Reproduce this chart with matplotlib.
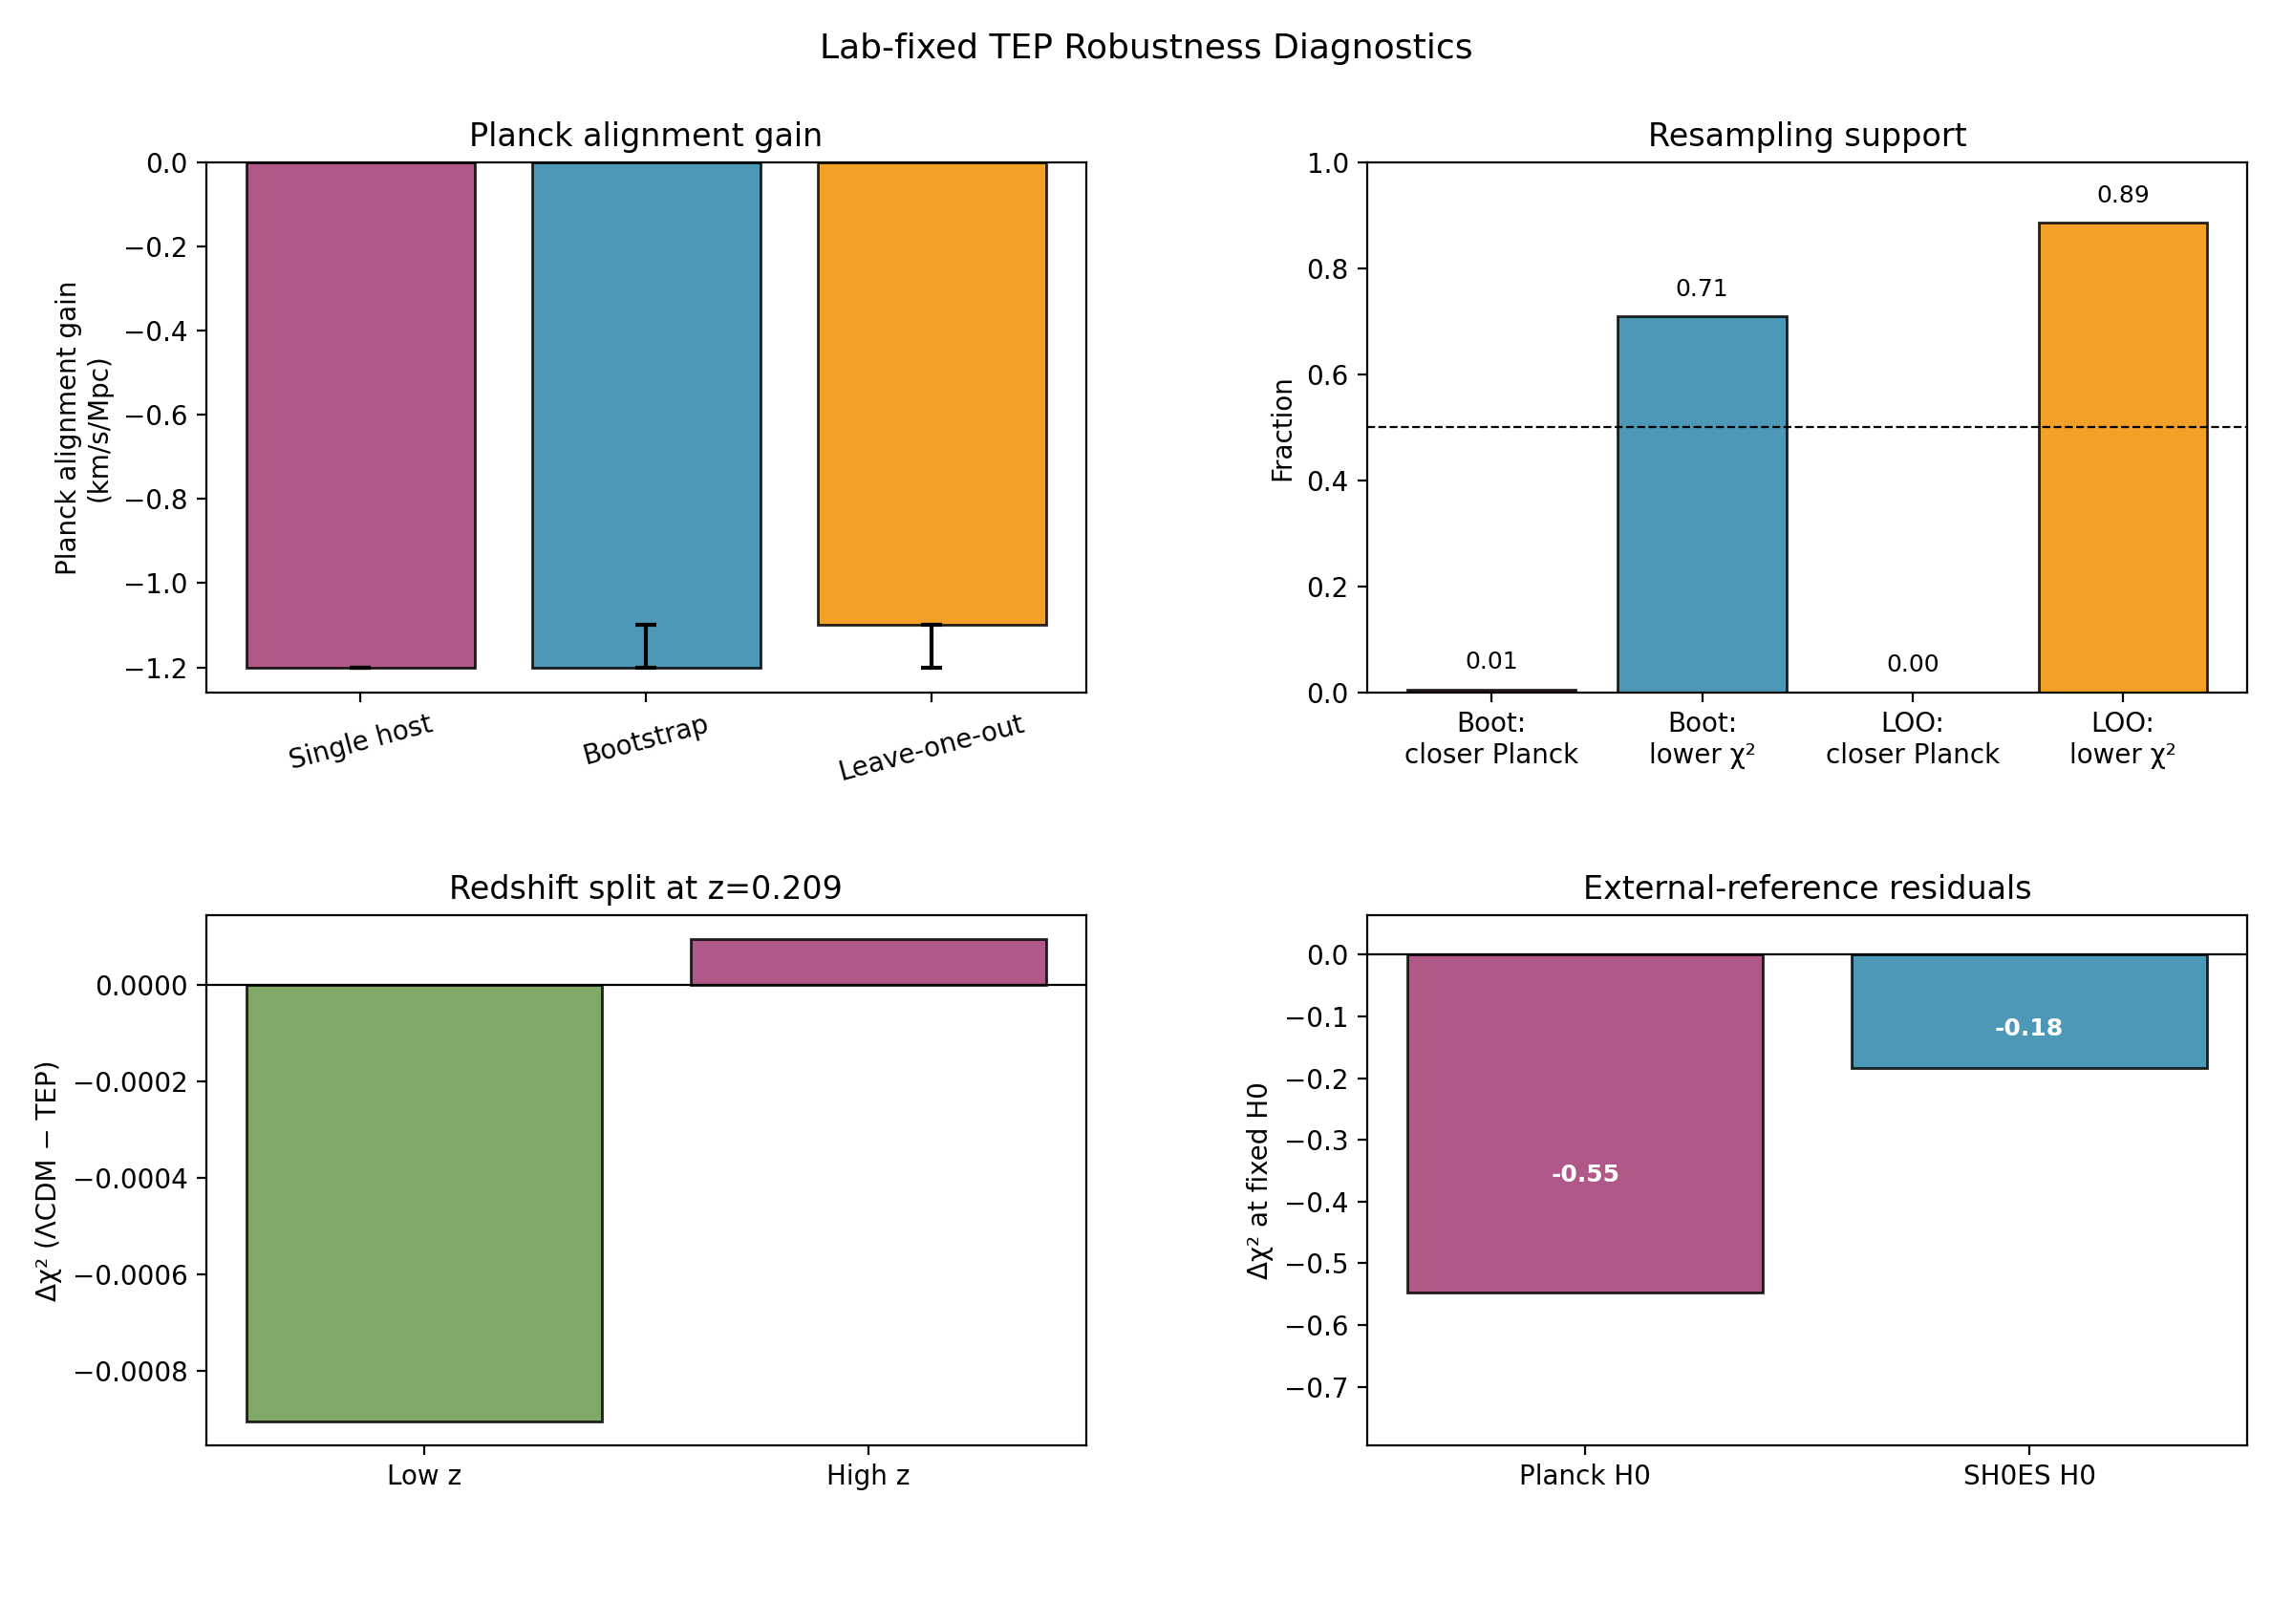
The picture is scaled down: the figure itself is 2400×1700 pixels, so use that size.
"""
Lab-fixed TEP robustness diagnostics, 4 panel summary figure.
"""

import matplotlib
matplotlib.use("Agg")
import matplotlib.pyplot as plt

# ── warna (sama dgn palet paper) ──
C_PLUM   = "#A23B72"
C_BLUE   = "#2E86AB"
C_ORANGE = "#F18F01"
C_GREEN  = "#6A994E"

# ── Panel A: Planck alignment gain ──
GAIN_LABELS = ["Single host", "Bootstrap", "Leave-one-out"]
GAIN_VALUES = [-1.2, -1.2, -1.1]
GAIN_ERR_LO = [0.0, 0.0, 0.1]
GAIN_ERR_HI = [0.0, 0.1, 0.0]

# ── Panel B: resampling support ──
SUPPORT_LABELS = ["Boot:\ncloser Planck", "Boot:\nlower χ²",
                  "LOO:\ncloser Planck", "LOO:\nlower χ²"]
SUPPORT_VALUES = [0.006, 0.709, 0.0, 0.886]

# ── Panel C: redshift split ──
Z_SPLIT  = 0.209
Z_LABELS = ["Low z", "High z"]
Z_DCHI2  = [-0.000905, 0.000094]

# ── Panel D: external references ──
REF_LABELS = ["Planck H0", "SH0ES H0"]
REF_DCHI2  = [-0.548, -0.184]


def bar_kw(colors):
    return dict(color=colors, alpha=0.85, edgecolor="black", linewidth=1)


def main():
    fig, axes = plt.subplots(2, 2, figsize=(12, 8.5))
    fig.subplots_adjust(left=0.09, right=0.98, top=0.9, bottom=0.11,
                        wspace=0.32, hspace=0.42)
    ax1, ax2, ax3, ax4 = axes.ravel()

    # (a) alignment gain + CI
    x = range(len(GAIN_LABELS))
    ax1.bar(x, GAIN_VALUES, **bar_kw([C_PLUM, C_BLUE, C_ORANGE]))
    ax1.errorbar(x, GAIN_VALUES, yerr=[GAIN_ERR_LO, GAIN_ERR_HI], fmt="none",
                 ecolor="black", elinewidth=1.5, capsize=4, capthick=1.5)
    ax1.set_xticks(list(x))
    ax1.set_xticklabels(GAIN_LABELS, rotation=15)
    ax1.set_ylabel("Planck alignment gain\n(km/s/Mpc)")
    ax1.set_title("Planck alignment gain")

    # (b) fraksi resampling
    x = range(len(SUPPORT_LABELS))
    ax2.bar(x, SUPPORT_VALUES, **bar_kw([C_PLUM, C_BLUE, C_PLUM, C_ORANGE]))
    for i, v in enumerate(SUPPORT_VALUES):
        ax2.text(i, v + 0.03, f"{v:.2f}", ha="center", va="bottom", fontsize=9)
    ax2.axhline(0.5, color="black", linestyle="--", linewidth=0.8)
    ax2.set_xticks(list(x))
    ax2.set_xticklabels(SUPPORT_LABELS)
    ax2.set_ylim(0, 1)
    ax2.set_ylabel("Fraction")
    ax2.set_title("Resampling support")

    # (c) split redshift
    ax3.bar(Z_LABELS, Z_DCHI2, **bar_kw([C_GREEN, C_PLUM]))
    ax3.axhline(0, color="black", linewidth=0.8)
    ax3.set_ylabel("Δχ² (ΛCDM − TEP)")
    ax3.set_title(f"Redshift split at z={Z_SPLIT:.3f}")

    # (d) residual thd referensi eksternal
    ax4.bar(REF_LABELS, REF_DCHI2, **bar_kw([C_PLUM, C_BLUE]))
    for i, v in enumerate(REF_DCHI2):
        ax4.text(i, v * 0.65, f"{v:.2f}", ha="center", va="center",
                 color="white", fontweight="bold", fontsize=9)
    ax4.axhline(0, color="black", linewidth=0.8)
    ax4.set_ylim(-0.795, 0.064)
    ax4.set_ylabel("Δχ² at fixed H0")
    ax4.set_title("External-reference residuals")

    fig.suptitle("Lab-fixed TEP Robustness Diagnostics", fontsize=13)
    fig.savefig("out.png", dpi=200)


if __name__ == "__main__":
    main()
